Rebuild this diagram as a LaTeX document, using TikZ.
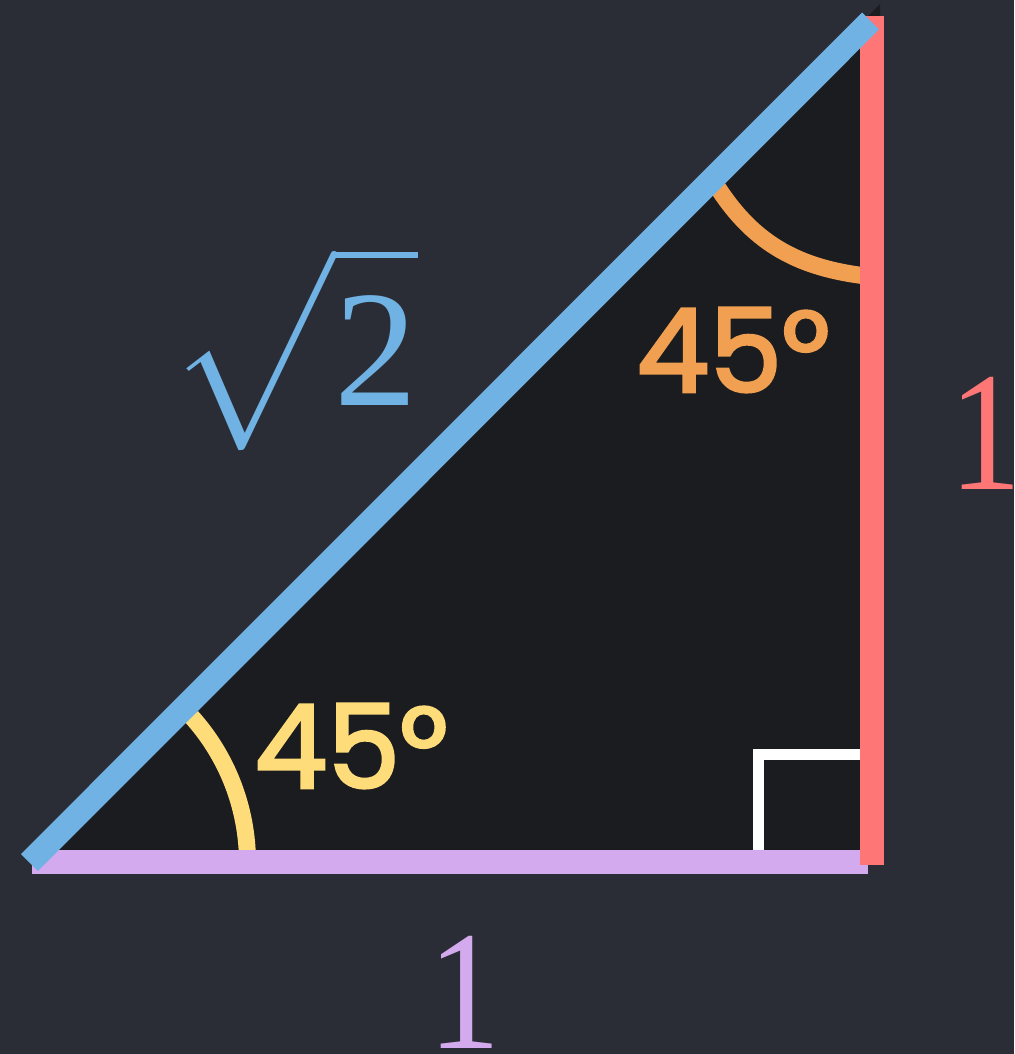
\documentclass[tikz,border=0pt]{standalone}
\usepackage{fontspec}
\usepackage{unicode-math}
\setmainfont{Liberation Serif}
\setmathfont{Latin Modern Math}
\newfontfamily\chalkfont[FakeBold=2.5]{Poppins}
\definecolor{bgc}{HTML}{2A2D36}
\definecolor{trc}{HTML}{1B1C20}
\definecolor{hypc}{HTML}{70B2E3}
\definecolor{vertc}{HTML}{FF7676}
\definecolor{basec}{HTML}{D4AAEE}
\definecolor{topc}{HTML}{F0A050}
\definecolor{botc}{HTML}{FEDC7A}
\tikzset{
  bar/.style={line width=24pt, line cap=butt},
  chalkarc/.style={line width=17pt, line cap=butt},
  numlabel/.style={inner sep=0pt, anchor=base, xscale=0.85, font=\fontsize{170}{170}\selectfont},
  anglelabel/.style={inner sep=0pt, font=\chalkfont\fontsize{116}{116}\selectfont},
}
\begin{document}
\begin{tikzpicture}[x=1pt,y=-1pt]
\useasboundingbox (0,0) rectangle (1014,1054);
\fill[bgc] (0,0) rectangle (1014,1054);
% vertices
\coordinate (A) at (29.5,862.5);
\coordinate (B) at (870.5,21);
\coordinate (C) at (872,862);
\fill[trc] (A) -- (880,4) -- (880,862) -- cycle;
% angle arcs
\draw[botc, chalkarc] (A) ++(-3:218) arc[start angle=-3, end angle=-42, radius=218];
\draw[topc, chalkarc] (718,188) .. controls (755,245) and (800,268) .. (866,276);
% right angle marker
\draw[white, line width=11pt, line join=miter] (758.5,850) -- (758.5,754.5) -- (860,754.5);
% sides
\draw[basec, bar] (32,862) -- (868,862);
\draw[vertc, bar] (872,16) -- (872,865);
\draw[hypc, bar] (A) -- (B);
% labels
\node[hypc, inner sep=0pt, anchor=base east, font=\fontsize{166}{166}\selectfont] (hyplabel) at (418,405) {$\displaystyle\sqrt{\mbox{2}\vphantom{\rule[-34pt]{0pt}{1pt}}}$};
\node[vertc, numlabel] (vertlabel) at (986,489) {1};
\node[basec, numlabel] (baselabel) at (465,1048) {1};
\node[topc, anglelabel] (toplabel) at (733,350) {45°};
\node[botc, anglelabel] (botlabel) at (351,746) {45°};
\end{tikzpicture}
\end{document}
